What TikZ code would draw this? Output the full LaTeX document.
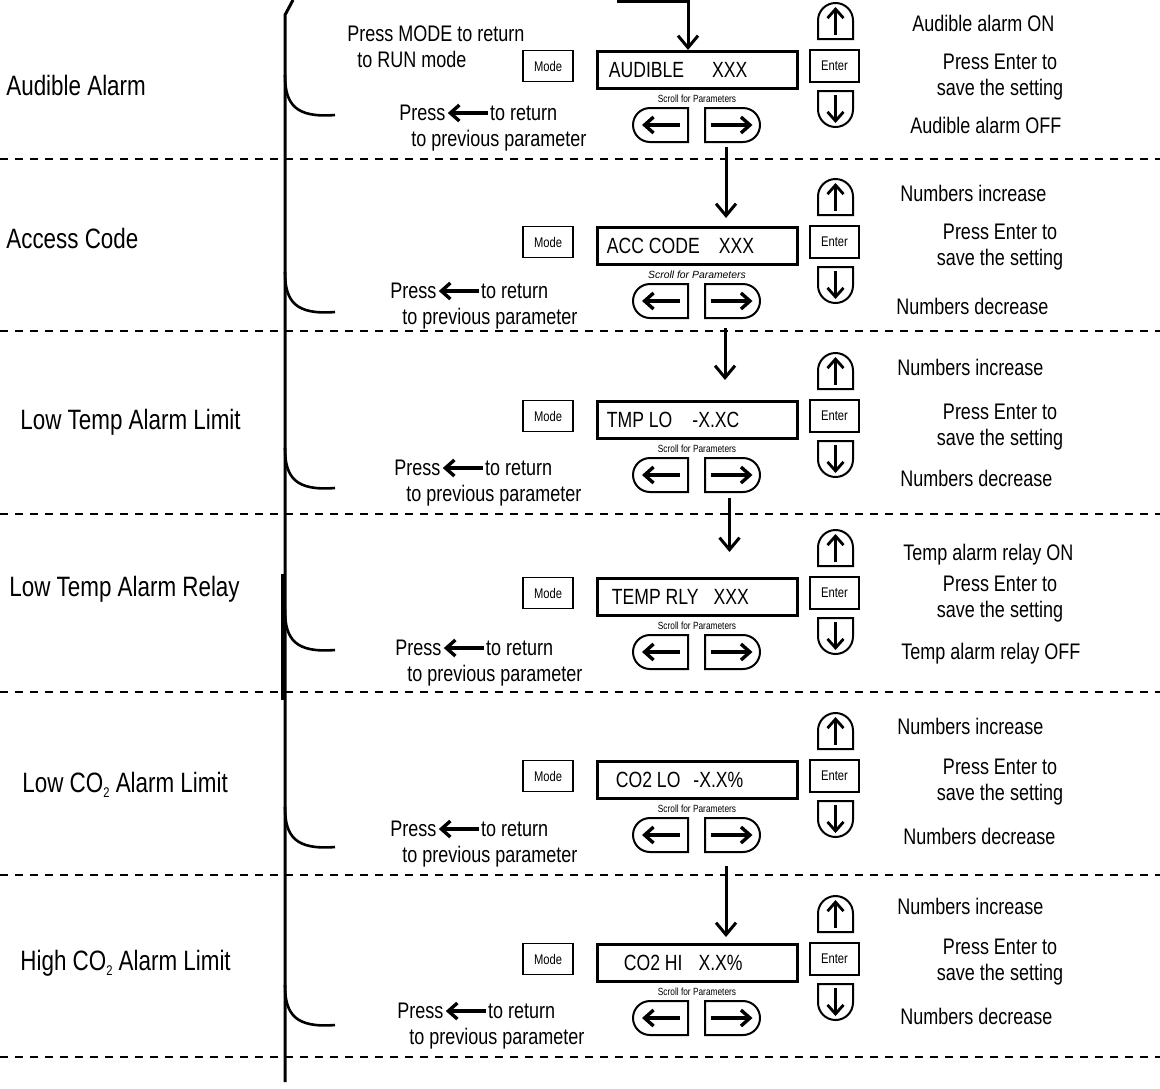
\documentclass[tikz,border=0pt]{standalone}
\usepackage{fontspec}
\setmainfont{Liberation Sans}[FakeStretch=0.8]
\newfontfamily\plainsans{Liberation Sans}
\usetikzlibrary{arrows.meta,calc,shapes.misc}
\newcommand\lowtwo{\raisebox{-2.5pt}{\fontsize{7}{8}\selectfont 2}}

\begin{document}
\begin{tikzpicture}[x=0.5pt,y=-0.5pt,
  sectitle/.style={inner sep=0pt,anchor=base west,font=\fontsize{14}{16}\selectfont},
  note/.style={inner sep=1pt,font=\fontsize{11.25}{13}\selectfont},
  lcd/.style={draw,line width=1.5pt,minimum width=100pt,minimum height=18.5pt,inner sep=0pt},
  lcdtext/.style={inner sep=0pt,anchor=west,font=\fontsize{11}{13}\selectfont},
  keybox/.style={draw,line width=.8pt,minimum width=25pt,minimum height=15.5pt,inner sep=0pt,font=\fontsize{7}{8}\selectfont},
  scroll/.style={inner sep=0pt,font=\fontsize{5.2}{6}\selectfont},
  hbtn/.style={draw,line width=1pt,rounded rectangle,minimum width=27.5pt,minimum height=17pt,inner sep=0pt},
  vbtn/.style={draw,line width=1pt,rounded rectangle,rounded rectangle west arc=none,minimum width=18pt,minimum height=17.5pt,inner sep=0pt},
  sepline/.style={dash pattern=on 4pt off 3.5pt,line width=.7pt},
  flow/.style={line width=1.5pt,-{Straight Barb[length=6pt,width=10pt]}},
  keyarrow/.style={line width=1.7pt,-{Straight Barb[length=4.5pt,width=8pt]}},
  hookline/.style={line width=1.3pt},
]
  \useasboundingbox (0,0) rectangle (1160,1088);
  % section separators
  \foreach \y in {159,331,514,692,875,1057}
    \draw[sepline] (0,\y) -- (1160,\y);
  % bracket on the left
  \draw[line width=1.5pt] (293,0) -- (285,15) -- (285,1082);
  \draw[line width=1.2pt] (282.5,574) -- (282.5,700);

  % one panel per parameter
  \foreach \n/\yb/\yh/\px/\py/\ye in {1/70/115/397/113/77,2/246/312/388/291/247,
      3/420/488/392/468/427,4/597/650/393/648/599,5/780/847/388/829/782,6/963/1025/395/1011/962} {
    \node[keybox] (mode\n) at (548,\yb-4) {Mode};
    \node[lcd] (lcd\n) at (697,\yb) {};
    \node[scroll] (scr\n) at (697,\yb+29) {\ifnum\n=2 \plainsans\itshape\fi Scroll for Parameters};
    \node[hbtn,rounded rectangle east arc=none] (left\n) at (660.5,\yb+55) {};
    \node[hbtn,rounded rectangle west arc=none] (right\n) at (732.5,\yb+55) {};
    \draw[keyarrow] ($(left\n.center)+(19.5,0)$) -- ($(left\n.center)+(-18.5,0)$);
    \draw[keyarrow] ($(right\n.center)+(-22,0)$) -- ($(right\n.center)+(20,0)$);
    \node[keybox,minimum width=24.5pt,minimum height=16pt,line width=1pt] (enter\n) at (834.5,\yb-4) {Enter};
    \node[vbtn,rotate=90] (up\n) at (835.5,\yb-49) {};
    \node[vbtn,rotate=-90] (down\n) at (835.5,\yb+39) {};
    \draw[keyarrow,line width=1.4pt] ($(up\n.center)+(0,14)$) -- ($(up\n.center)+(0,-14)$);
    \draw[keyarrow,line width=1.4pt] ($(down\n.center)+(0,-14)$) -- ($(down\n.center)+(0,14)$);
    \node[note,align=center] (save\n) at (1000,\ye) {Press Enter to\\save the setting};
    \draw[hookline] (285,\yh-40) .. controls (285,\yh-10) and (296,\yh+3) .. (335,\yh);
    \node[note,anchor=west] (pr\n) at (\px,\py) {Press};
    \node[note,anchor=west] (ret\n) at ($(pr\n.east)+(40,0)$) {to return};
    \draw[keyarrow] (ret\n.west) -- (pr\n.east);
    \node[note,anchor=base west] (prev\n) at (\px+12,\py+33) {to previous parameter};
  }

  % display texts
  \foreach \n/\dx/\t in {1/6.5pt/{AUDIBLE\hspace{14pt}XXX},2/5.5pt/{ACC CODE\hspace{9.5pt}XXX},
      3/5.5pt/{TMP LO\hspace{10pt}-X.XC},4/8pt/{TEMP RLY\hspace{7.5pt}XXX},
      5/10pt/{CO2 LO\hspace{6.5pt}-X.X\%},6/14pt/{CO2 HI\hspace{8pt}X.X\%}}
    \node[lcdtext] (txt\n) at ([xshift=\dx]lcd\n.west) {\t};

  % parameter names
  \foreach \n/\x/\y/\t in {1/6/95/Audible Alarm,2/6/248/Access Code,3/20/429/Low Temp Alarm Limit,
      4/9/596/Low Temp Alarm Relay,5/22/792/{Low CO\lowtwo{} Alarm Limit},
      6/20/970/{High CO\lowtwo{} Alarm Limit}}
    \node[sectitle] (name\n) at (\x,\y) {\t};

  % what the up and down keys do
  \foreach \nm/\x/\y/\t in {on1/910/31/Audible alarm ON,off1/908/133/Audible alarm OFF,
      on2/898/201/Numbers increase,off2/894/314/Numbers decrease,
      on3/895/375/Numbers increase,off3/898/486/Numbers decrease,
      on4/901/560/Temp alarm relay ON,off4/899/659/Temp alarm relay OFF,
      on5/895/734/Numbers increase,off5/901/844/Numbers decrease,
      on6/895/914/Numbers increase,off6/898/1024/Numbers decrease}
    \node[note,anchor=base west] (\nm) at (\x,\y) {\t};

  \node[note,align=left,anchor=west] (modehint) at (345,47) {Press MODE to return\\\hspace*{5pt}to RUN mode};

  % flow between the displays
  \coordinate (entry) at (617,1.5);
  \draw[flow] (entry) -| ([xshift=-4.5pt]lcd1.north);
  \foreach \a/\c/\s/\e/\dx in {1/2/2pt/4pt/-3.25pt,2/3/4.5pt/10pt/-3.75pt,3/4/2.5pt/12.5pt/-1.5pt,5/6/6.5pt/3pt/-3.25pt}
    \draw[flow,shorten <=\s,shorten >=\e] ([xshift=\dx]right\a.south) -- ([xshift=\dx]right\a.south |- lcd\c.north);
\end{tikzpicture}
\end{document}
